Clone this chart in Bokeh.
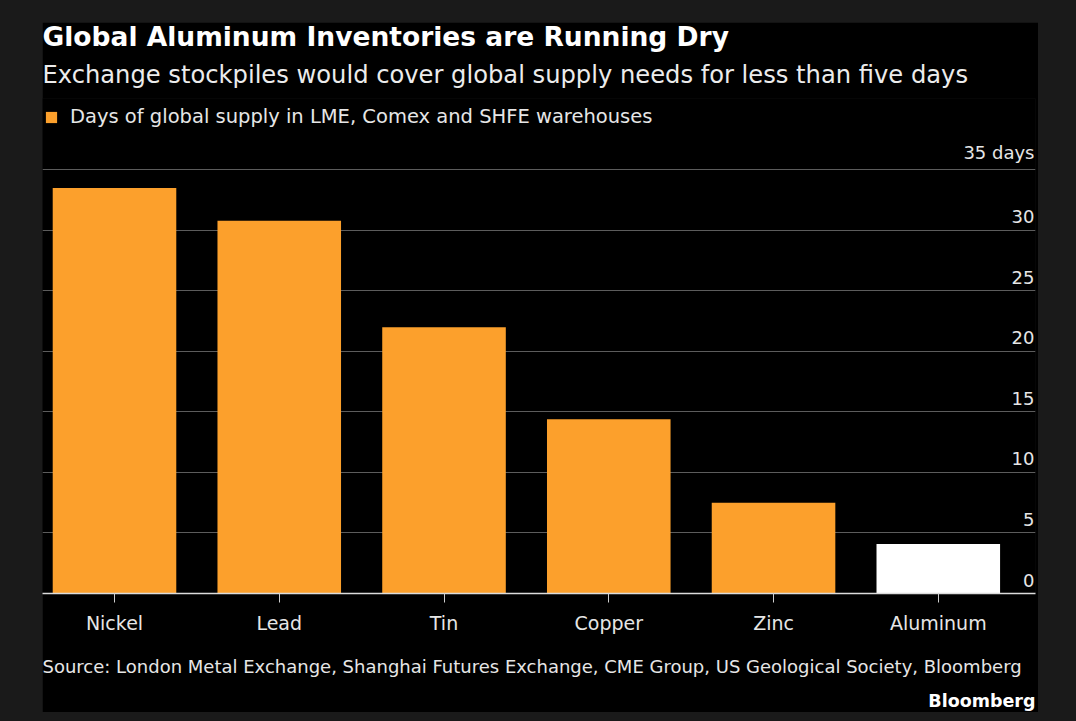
from bokeh.plotting import figure
from bokeh.models import (ColumnDataSource, Range1d, FixedTicker, Grid, LabelSet,
                          Title, Legend, LegendItem)
from bokeh.core.properties import value
from bokeh.layouts import column
from bokeh.embed import file_html
from bokeh.resources import INLINE

# ---- data ----
categories = ["Nickel", "Lead", "Tin", "Copper", "Zinc", "Aluminum"]
days = [33.5, 30.8, 22.0, 14.4, 7.5, 4.1]
y_ticks = [0, 5, 10, 15, 20, 25, 30, 35]
y_tick_labels = ["0", "5", "10", "15", "20", "25", "30", "35 days"]
series_name = "Days of global supply in LME, Comex and SHFE warehouses"
title_text = "Global Aluminum Inventories are Running Dry"
subtitle_text = "Exchange stockpiles would cover global supply needs for less than five days"
source_text = ("Source: London Metal Exchange, Shanghai Futures Exchange, CME Group, "
               "US Geological Society, Bloomberg")
brand_text = "Bloomberg"

ORANGE = "#FCA02C"
bar_colors = [ORANGE] * (len(categories) - 1) + ["#FFFFFF"]
FONT = "DejaVu Sans"
TXT = "#e6e6e6"

xs = list(range(len(categories)))
src = ColumnDataSource(dict(x=xs, top=days, color=bar_colors))

x_lo, x_hi = -0.437, len(categories) - 1 + 0.59
p = figure(width=996, height=690, output_backend="svg", toolbar_location=None,
           x_range=Range1d(x_lo, x_hi), y_range=Range1d(0, 40.9),
           y_axis_location=None,
           background_fill_color="black", border_fill_color="black",
           min_border_left=0, min_border_right=3, min_border_top=0, min_border_bottom=119,
           margin=(22, 38, 9, 42))
p.outline_line_color = None
for g in list(p.grid):
    g.visible = False

grid = Grid(dimension=1, ticker=FixedTicker(ticks=y_ticks[1:]),
            grid_line_color="#5c5c5c", grid_line_width=1)
p.add_layout(grid)

r = p.vbar(x="x", top="top", width=0.75, source=src, fill_color="color", line_color=None)

# x axis
ax = p.xaxis[0]
ax.ticker = FixedTicker(ticks=xs)
ax.major_label_overrides = {i: c for i, c in enumerate(categories)}
ax.axis_line_color = "#dcdcdc"
ax.axis_line_width = 1.5
ax.major_tick_line_color = "#cfcfcf"
ax.major_tick_out = 9
ax.major_tick_in = 0
ax.minor_tick_line_color = None
ax.major_label_text_font = FONT
ax.major_label_text_font_size = "19px"
ax.major_label_text_color = TXT
ax.major_label_standoff = 9

# y tick labels inside plot on right
ysrc = ColumnDataSource(dict(y=y_ticks, t=y_tick_labels, x=[x_hi] * len(y_ticks)))
p.add_layout(LabelSet(x="x", y="y", text="t", source=ysrc, text_align="right",
                      text_baseline="bottom", y_offset=7, x_offset=-1,
                      text_font=value(FONT), text_font_size=value("18px"), text_color=TXT))

# legend inside the frame, top left
leg = Legend(items=[LegendItem(label=series_name, renderers=[r], index=0)],
             location=(2, 465), orientation="horizontal",
             background_fill_alpha=0, border_line_color=None,
             label_text_font=FONT, label_text_font_size="19.5px", label_text_color=TXT,
             glyph_width=14, glyph_height=14, label_standoff=12,
             padding=0, margin=0, spacing=0)
p.add_layout(leg, "center")

p.add_layout(Title(text=subtitle_text, text_font=FONT, text_font_size="24.2px",
                   text_font_style="normal", text_color="#ececec", align="left",
                   standoff=20), "above")
p.title.text = title_text
p.title.text_font = FONT
p.title.text_font_size = "26.5px"
p.title.text_font_style = "bold"
p.title.text_color = "white"
p.title.align = "left"
p.title.standoff = -7

p.add_layout(Title(text=source_text, text_font=FONT, text_font_size="18px",
                   text_font_style="normal", text_color=TXT, align="left",
                   standoff=34), "below")
p.add_layout(Title(text=brand_text, text_font=FONT, text_font_size="17.5px",
                   text_font_style="bold", text_color="white", align="right",
                   standoff=-10, text_line_height=0.8), "below")

lay = column(p, width=1076, height=721, styles={"background-color": "#1a1a1a"})
open("out.html", "w").write(file_html(lay, INLINE))
